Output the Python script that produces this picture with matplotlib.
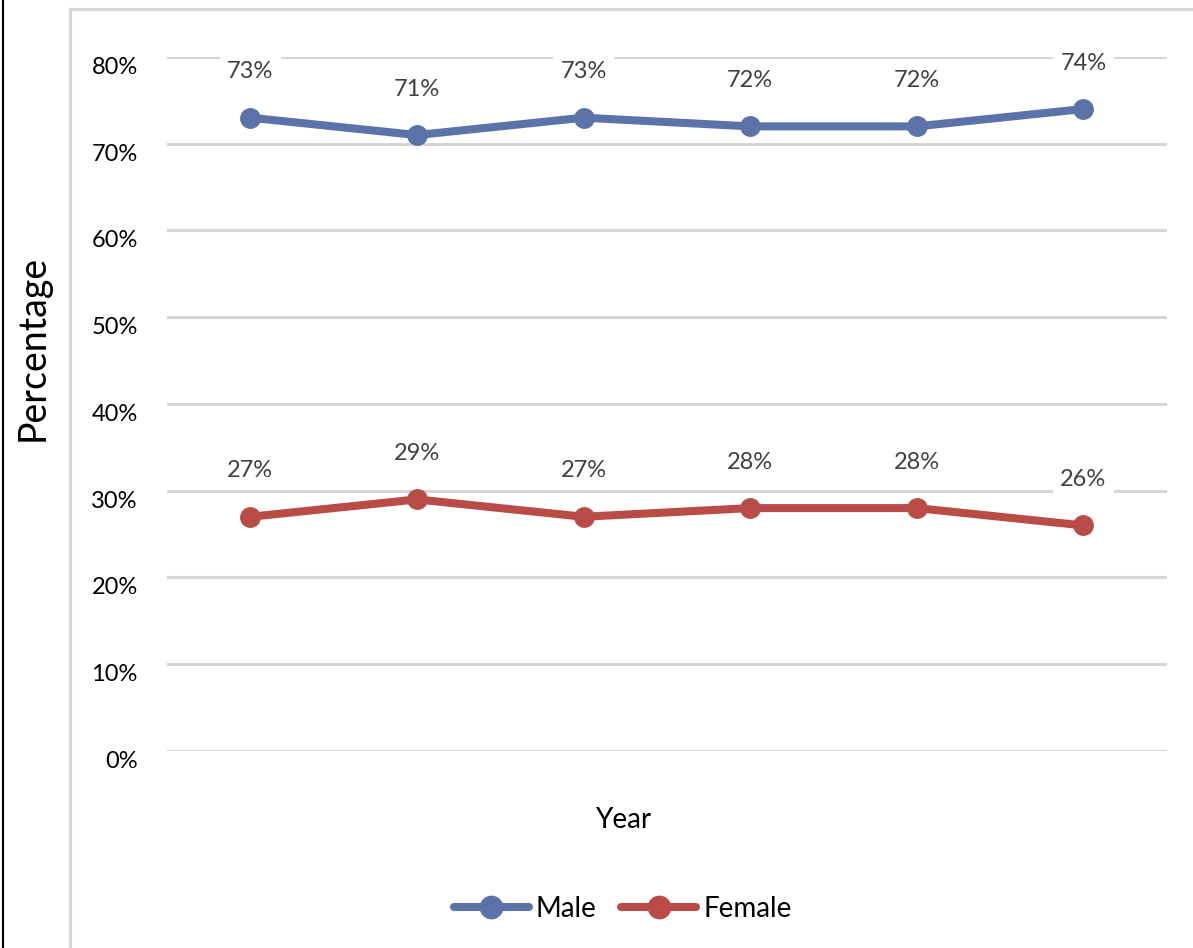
import matplotlib.pyplot as plt
from matplotlib.lines import Line2D
from matplotlib.ticker import FuncFormatter

plt.rcParams['font.family'] = ['Lato', 'DejaVu Sans']

years = ['2013', '2014', '2015', '2016', '2017', '2018']
male = [0.73, 0.71, 0.73, 0.72, 0.72, 0.74]
female = [0.27, 0.29, 0.27, 0.28, 0.28, 0.26]
male_labels = ['73%', '71%', '73%', '72%', '72%', '74%']
female_labels = ['27%', '29%', '27%', '28%', '28%', '26%']

blue = '#5B73A9'
red = '#B94C47'
grid_col = '#DAD5D0'

fig = plt.figure(figsize=(11.93, 9.48), dpi=100)
ax = fig.add_axes([0.14, 0.2078, 0.838, 0.7321])

x = list(range(len(years)))
ax.plot(x, male, color=blue, lw=5.8, marker='o', ms=14, solid_capstyle='round', label='Male', zorder=3)
ax.plot(x, female, color=red, lw=5.8, marker='o', ms=14, solid_capstyle='round', label='Female', zorder=3)

for xi, v, t in zip(x, male, male_labels):
    ax.annotate(t, (xi, v), xytext=(0, 33), textcoords='offset points', ha='center', va='center',
                fontsize=17, color='#404040', zorder=4,
                bbox=dict(boxstyle='square,pad=0.3', fc='white', ec='none'))
for xi, v, t in zip(x, female, female_labels):
    ax.annotate(t, (xi, v), xytext=(0, 33), textcoords='offset points', ha='center', va='center',
                fontsize=17, color='#404040', zorder=4,
                bbox=dict(boxstyle='square,pad=0.3', fc='white', ec='none'))

ax.set_xlim(-0.5, len(years) - 0.5)
ax.set_ylim(0, 0.8)
ax.set_yticks([i / 10 for i in range(9)])
ax.yaxis.set_major_formatter(FuncFormatter(lambda v, p: f'{v*100:.0f}%'))
ax.set_xticks([])
ax.tick_params(axis='y', length=0, pad=21, labelsize=17)
for lbl in ax.get_yticklabels():
    lbl.set_va('top')
ax.grid(axis='y', color=grid_col, lw=2.2)
ax.set_axisbelow(True)
for s in ax.spines.values():
    s.set_visible(False)

fig.text(0.0277, 0.633, 'Percentage', rotation=90, ha='center', va='center', fontsize=27)
fig.text(0.522, 0.135, 'Year', ha='center', va='center', fontsize=20)

# chart frame lines
fig.add_artist(Line2D([0.0587, 0.0587], [0, 0.991], color=grid_col, lw=2.2))
fig.add_artist(Line2D([0.0587, 1.0], [0.991, 0.991], color=grid_col, lw=2.2))
fig.add_artist(Line2D([0.0025, 0.0025], [0, 1], color='black', lw=1.5))

fig.legend(loc='center', bbox_to_anchor=(0.522, 0.041), ncol=2, frameon=False, fontsize=20,
           handlelength=2.7, columnspacing=0.9, handletextpad=0.25, markerscale=1.15)

fig.savefig('out.png', dpi=100)
